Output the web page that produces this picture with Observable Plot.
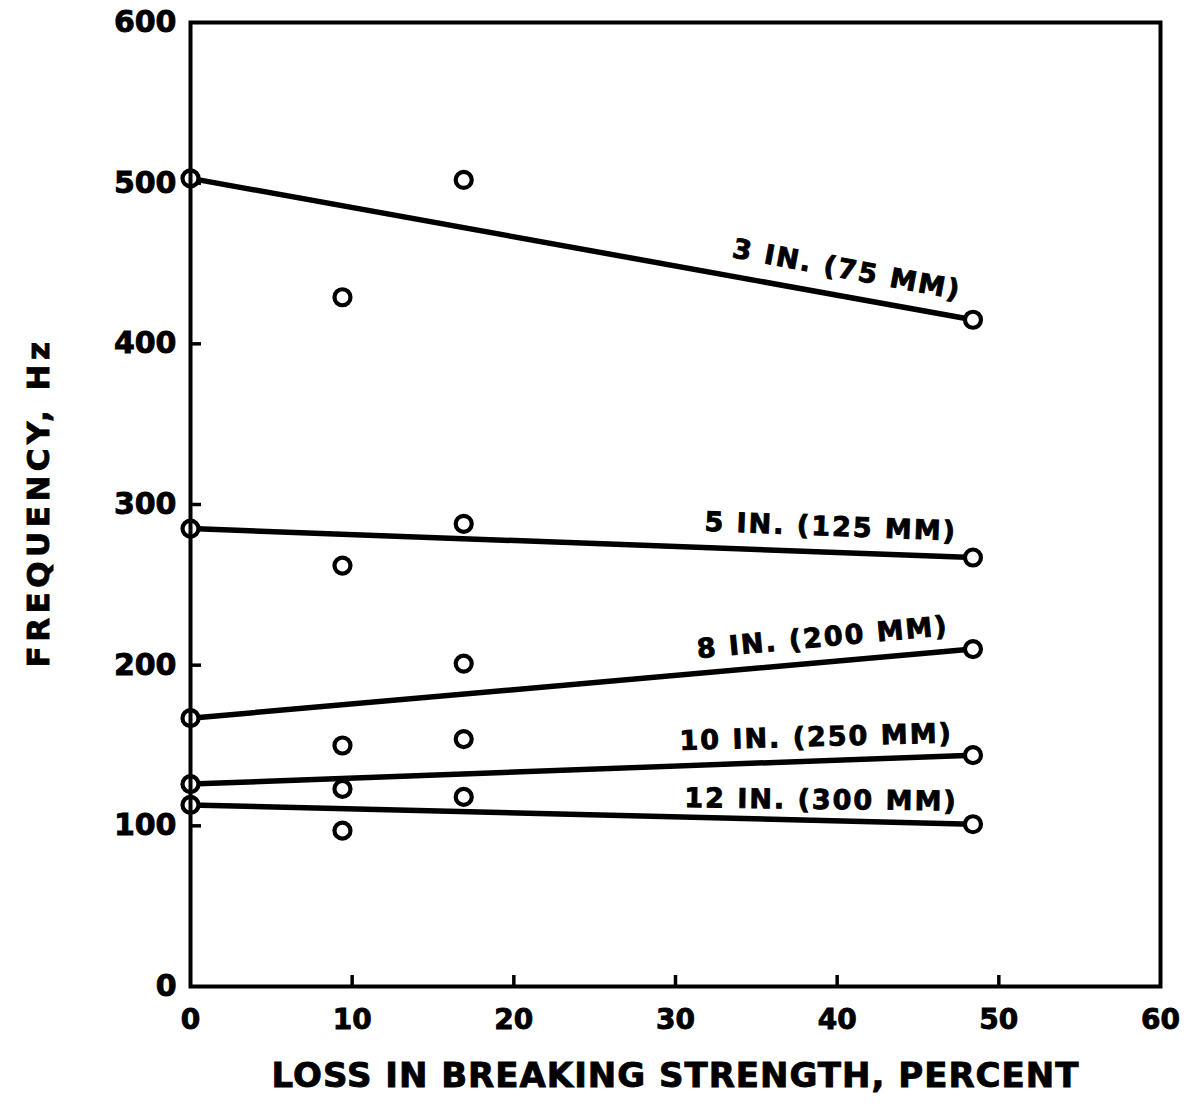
<!DOCTYPE html>
<html>
<head>
<meta charset="utf-8">
<script src="https://cdn.jsdelivr.net/npm/d3@7"></script>
<script src="https://cdn.jsdelivr.net/npm/@observablehq/plot@0.6"></script>
<style>
  html, body { margin: 0; padding: 0; background: #fff; }
  #chart svg { display: block; }
</style>
</head>
<body>
<div id="chart"></div>
<script>
// Data
const series = ["3 IN. (75 MM)", "5 IN. (125 MM)", "8 IN. (200 MM)", "10 IN. (250 MM)", "12 IN. (300 MM)"];
const lossPercent = [0, 9.4, 16.9, 48.4];
const freq3in  = [503, 429, 502, 415];
const freq5in  = [285, 262, 288, 267];
const freq8in  = [167, 150, 201, 210];
const freq10in = [126, 123, 154, 144];
const freq12in = [113, 97, 118, 101];
const xTicks = [0, 10, 20, 30, 40, 50, 60];
const yTicks = [0, 100, 200, 300, 400, 500, 600];
const xTitle = "LOSS IN BREAKING STRENGTH, PERCENT";
const yTitle = "FREQUENCY, Hz";
// label anchor (data coords) and tilt for each curve label
const labelX = [40.6, 39.6, 39.1, 38.7, 39.0];
const labelY = [446, 286, 217, 155, 116];
const labelAngle = [10.6, 2.2, -5.3, -1.6, 0.7];

const allFreq = [freq3in, freq5in, freq8in, freq10in, freq12in];
const points = [];
allFreq.forEach((arr, i) => arr.forEach((v, j) => points.push({series: series[i], x: lossPercent[j], y: v})));
const fits = [];
allFreq.forEach((arr, i) => {
  fits.push({series: series[i], x: lossPercent[0], y: arr[0]});
  fits.push({series: series[i], x: lossPercent[lossPercent.length - 1], y: arr[arr.length - 1]});
});
const labels = series.map((s, i) => ({text: s, x: labelX[i], y: labelY[i], a: labelAngle[i]}));

const W = 1195, H = 1110;
const mL = 190, mR = 35, mT = 22, mB = 124;
const font = "'DejaVu Sans', sans-serif";

const chart = Plot.plot({
  width: W,
  height: H,
  marginLeft: mL,
  marginRight: mR,
  marginTop: mT,
  marginBottom: mB,
  style: {fontFamily: font, background: "#fff", color: "#000"},
  x: {domain: [0, 60]},
  y: {domain: [0, 600]},
  marks: [
    Plot.axisX(xTicks, {tickSize: 0, tickPadding: 23, fontSize: 28, fontWeight: "bold", label: null}),
    Plot.axisY(yTicks, {tickSize: 0, tickPadding: 14, fontSize: 30, fontWeight: "bold", label: null}),
    // inward ticks
    Plot.tickX(xTicks.slice(1, -1), {x: d => d, insetTop: (H - mT - mB) - 11, strokeWidth: 3.5}),
    Plot.tickY(yTicks.slice(1, -1), {y: d => d, insetRight: (W - mL - mR) - 11, strokeWidth: 3.5}),
    Plot.line(fits, {x: "x", y: "y", z: "series", stroke: "#000", strokeWidth: 5.5}),
    Plot.dot(points, {x: "x", y: "y", r: 8, stroke: "#000", strokeWidth: 4.2, fill: "#fff"}),
    Plot.text(labels, {x: "x", y: "y", text: "text", rotate: "a", fontSize: 27, fontWeight: "bold", fill: "#000"}),
    Plot.frame({stroke: "#000", strokeWidth: 4}),
    Plot.text([xTitle], {frameAnchor: "bottom", dy: 100, fontSize: 34, fontWeight: "bold", fill: "#000"}),
    Plot.text([yTitle], {frameAnchor: "left", textAnchor: "middle", dx: -151, dy: -2, rotate: -90, fontSize: 31, fontWeight: "bold", fill: "#000"})
  ]
});
const svg = d3.select(chart);
svg.selectAll("text").attr("stroke", "#000").attr("stroke-width", 0.9);
const seriesSet = new Set(series);
svg.selectAll("text").each(function() {
  const t = this.textContent;
  if (seriesSet.has(t)) this.setAttribute("letter-spacing", "2px");
  else if (t === xTitle) this.setAttribute("letter-spacing", "1px");
  else if (t === yTitle) this.setAttribute("letter-spacing", "4.5px");
});
document.getElementById("chart").appendChild(chart);
</script>
</body>
</html>
